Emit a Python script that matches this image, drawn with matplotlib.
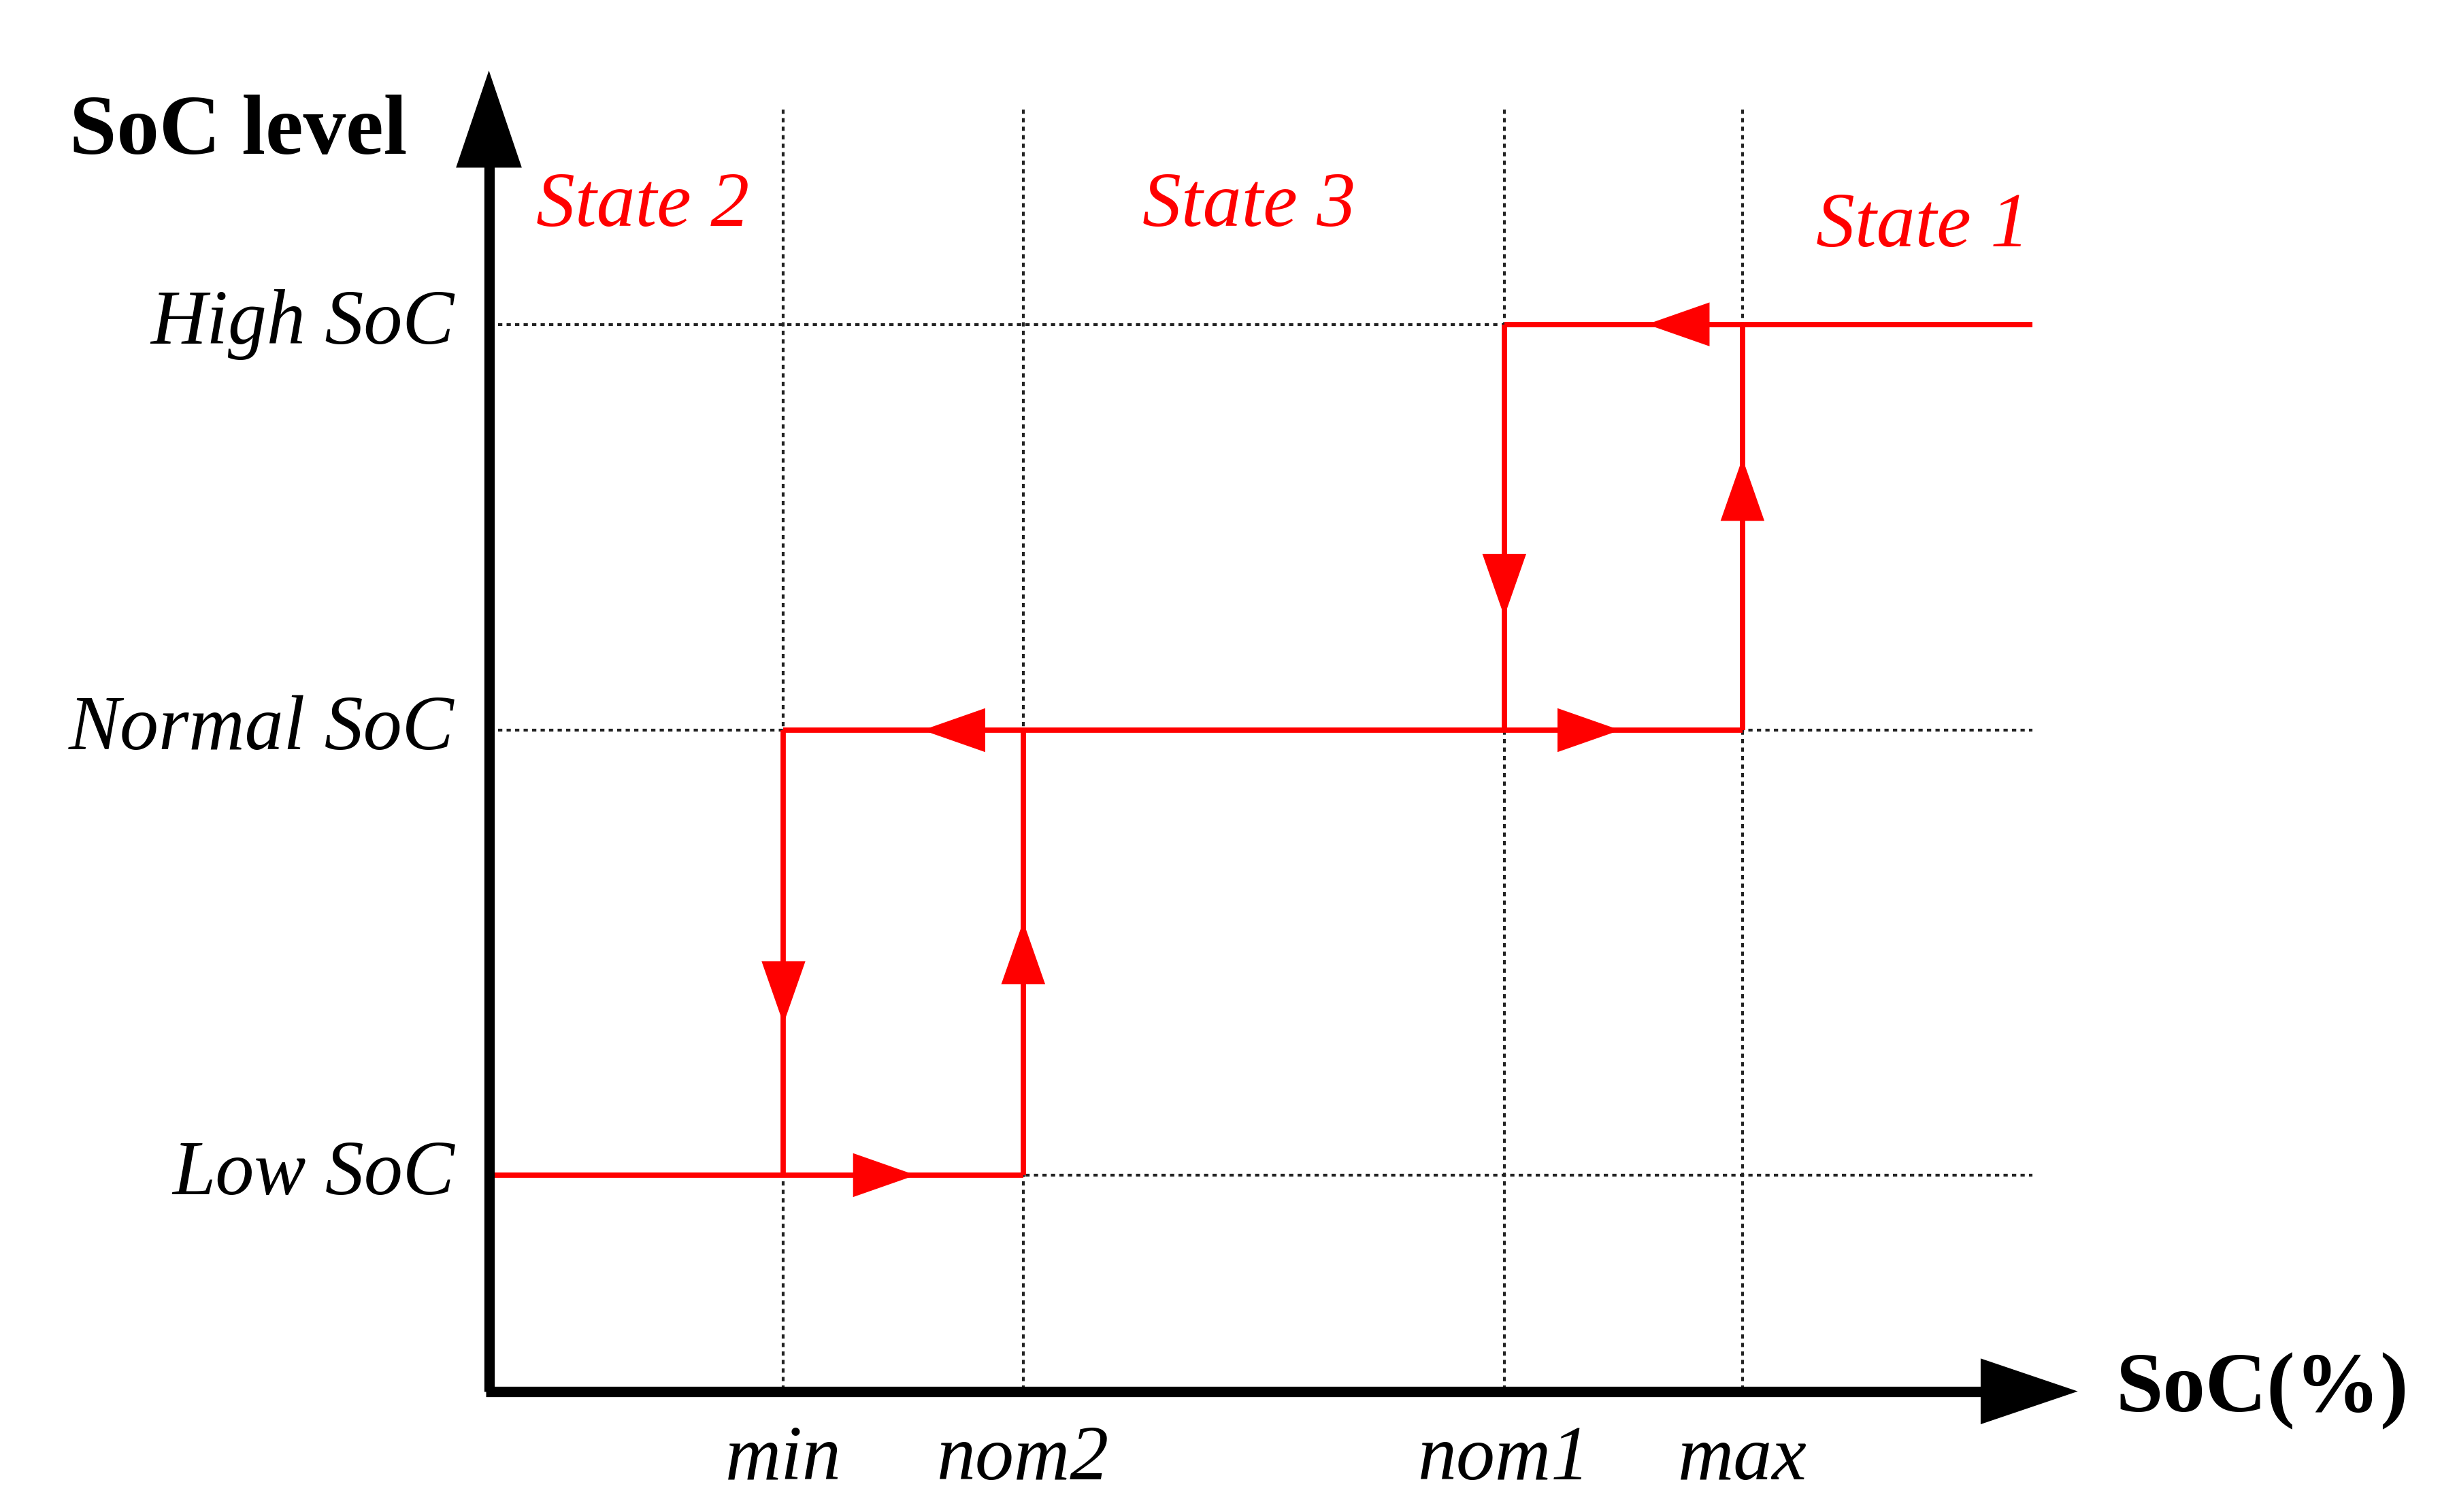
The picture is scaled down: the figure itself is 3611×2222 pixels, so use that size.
import matplotlib.pyplot as plt
from matplotlib.patches import Polygon

# positions in a 1568 x 965 canvas (y grows downward)
x_names = ['min', 'nom2', 'nom1', 'max']
x_pos = [500, 653, 960, 1112]
y_names = ['High SoC', 'Normal SoC', 'Low SoC']
y_pos = [207, 466, 750]
states = ['State 2', 'State 3', 'State 1']
state_xy = [(410, 132), (797, 132), (1227, 145)]

# red transition segments: (x0, y0, x1, y1, arrow position along path)
segments = [
    (310, 750, 653, 750, 0.80),
    (653, 750, 653, 466, 0.57),
    (653, 466, 500, 466, 0.42),
    (500, 466, 500, 750, 0.66),
    (653, 466, 1112, 466, 0.83),
    (1112, 466, 1112, 207, 0.67),
    (1297, 207, 960, 207, 0.73),
    (960, 207, 960, 466, 0.72),
]

RED = '#ff0000'
SERIF = 'Liberation Serif'

fig = plt.figure(figsize=(18.055, 11.11), dpi=200)
ax = fig.add_axes([0, 0, 1, 1])
ax.set_xlim(0, 1568)
ax.set_ylim(965, 0)
ax.axis('off')


def head(ax, tip, d, length, width, color):
    tx, ty = tip
    dx, dy = d
    bx, by = tx - dx * length, ty - dy * length
    px, py = -dy * width / 2, dx * width / 2
    ax.add_patch(Polygon([(tx, ty), (bx + px, by + py), (bx - px, by - py)],
                         closed=True, color=color, zorder=5, lw=0))


# dotted guides
for x in x_pos:
    ax.plot([x, x], [70, 888], ls=(0, (1.5, 1.5)), color='#222222', lw=1.5, zorder=1)
for y in y_pos:
    ax.plot([318, 1297], [y, y], ls=(0, (1.5, 1.5)), color='#222222', lw=1.5, zorder=1)

# red paths with arrowheads
for x0, y0, x1, y1, f in segments:
    ax.plot([x0, x1], [y0, y1], color=RED, lw=2.8, zorder=3, solid_capstyle='butt')
    L = abs(x1 - x0) + abs(y1 - y0)
    d = ((x1 - x0) / L, (y1 - y0) / L)
    tip = (x0 + (x1 - x0) * f, y0 + (y1 - y0) * f)
    head(ax, tip, d, 40, 28, RED)

# axes
ax.plot([310, 1270], [888, 888], color='black', lw=5.5, zorder=4, solid_capstyle='butt')
ax.plot([312, 312], [888, 100], color='black', lw=5.5, zorder=4, solid_capstyle='butt')
head(ax, (1326, 888), (1, 0), 62, 42, 'black')
head(ax, (312, 45), (0, -1), 62, 42, 'black')

ax.text(152, 85, 'SoC level', fontsize=45, fontweight='bold', family=SERIF,
        ha='center', va='center')
ax.text(1350, 888, 'SoC(%)', fontsize=45, fontweight='bold', family=SERIF,
        ha='left', va='center')

for name, y in zip(y_names, y_pos):
    ax.text(290, y, name, fontsize=41, style='italic', family=SERIF,
            ha='right', va='center')
for name, x in zip(x_names, x_pos):
    ax.text(x, 932, name, fontsize=41, style='italic', family=SERIF,
            ha='center', va='center')
for name, (x, y) in zip(states, state_xy):
    ax.text(x, y, name, fontsize=41, style='italic', family=SERIF, color=RED,
            ha='center', va='center')

fig.savefig('out.png')
